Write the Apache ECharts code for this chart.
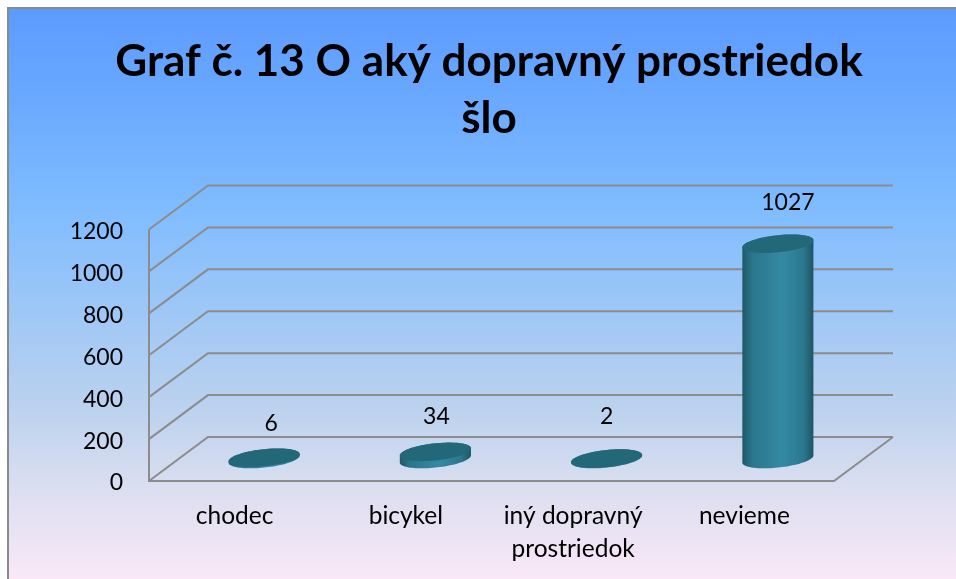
<!DOCTYPE html>
<html>
<head>
<meta charset="utf-8">
<style>html,body{margin:0;padding:0;background:#fff;overflow:hidden}#c{width:956px;height:579px}</style>
<script src="https://cdn.jsdelivr.net/npm/echarts@6/dist/echarts.min.js"></script>
</head>
<body>
<div id="c"></div>
<script>
const categories = ['chodec', 'bicykel', 'iný dopravný\nprostriedok', 'nevieme'];
const values = [6, 34, 2, 1027];
const yTicks = [0, 200, 400, 600, 800, 1000, 1200];
const titleText = 'Graf č. 13 O aký dopravný prostriedok\nšlo';

const FONT = 'Lato';
const DEPTH_X = 59, DEPTH_Y = -44;
const LINE = { stroke: '#8c8c8c', lineWidth: 2 };
const LABEL_SHIFT = [[7, -34], [1, -35], [0, -42], [10, -41]];

const chart = echarts.init(document.getElementById('c'), null, { renderer: 'canvas' });

function renderFrame(params, api) {
  const cs = params.coordSys;
  const v = api.value(0);
  const y = api.coord([0, v])[1];
  const x0 = cs.x, x1 = cs.x + cs.width;
  const children = [{
    type: 'polyline',
    shape: { points: [[x0, y], [x0 + DEPTH_X, y + DEPTH_Y], [x1 + DEPTH_X, y + DEPTH_Y]] },
    style: Object.assign({ fill: null }, LINE)
  }];
  if (v === 0) {
    children.push({
      type: 'polyline',
      shape: { points: [[x0, cs.y], [x0, y], [x1, y], [x1 + DEPTH_X, y + DEPTH_Y]] },
      style: Object.assign({ fill: null }, LINE)
    });
  }
  return { type: 'group', children };
}

function ellipsePoints(cx, cy, a, from, to) {
  const k = 3.6, b = 8.6, pts = [];
  const n = 48;
  for (let i = 0; i <= n; i++) {
    const t = from + (to - from) * i / n;
    pts.push([cx + a * Math.cos(t), cy - k * Math.cos(t) - b * Math.sin(t)]);
  }
  return pts;
}

function renderBar(params, api) {
  const idx = api.value(0), val = api.value(1);
  const band = api.size([1, 0])[0];
  const a = band * 0.415 / 2;
  const base = api.coord([idx, 0]);
  const top = api.coord([idx, val]);
  const cx = base[0] + DEPTH_X / 2;
  const by = base[1] + DEPTH_Y / 2;
  const ty = top[1] + DEPTH_Y / 2;
  const bodyPts = ellipsePoints(cx, ty, a, 0, Math.PI)
    .concat(ellipsePoints(cx, by, a, Math.PI, 2 * Math.PI));
  const shift = LABEL_SHIFT[idx];
  return {
    type: 'group',
    children: [
      {
        type: 'polygon',
        shape: { points: bodyPts },
        style: {
          fill: new echarts.graphic.LinearGradient(0, 0, 1, 0, [
            { offset: 0, color: '#1f5866' },
            { offset: 0.14, color: '#2a768c' },
            { offset: 0.55, color: '#348aa3' },
            { offset: 0.86, color: '#2b778e' },
            { offset: 1, color: '#1f5563' }
          ])
        }
      },
      {
        type: 'polygon',
        shape: { points: ellipsePoints(cx, ty, a, 0, 2 * Math.PI) },
        style: { fill: '#236878' }
      },
      {
        type: 'text',
        style: {
          x: cx + shift[0], y: ty + shift[1],
          text: String(values[idx]),
          align: 'center', verticalAlign: 'middle',
          fill: '#000', font: '23px ' + FONT
        }
      }
    ]
  };
}

chart.setOption({
  animation: false,
  graphic: [{
    type: 'rect', z: -10, silent: true,
    shape: { x: 8, y: 8, width: 960, height: 590 },
    style: {
      stroke: '#8a8a8a', lineWidth: 2,
      fill: new echarts.graphic.LinearGradient(0, 0, 0, 1, [
        { offset: 0, color: '#5c9bff' },
        { offset: 0.16, color: '#6aa9ff' },
        { offset: 0.34, color: '#7fbcff' },
        { offset: 0.68, color: '#bcd2ee' },
        { offset: 0.82, color: '#dcdff0' },
        { offset: 0.97, color: '#fbe8f8' },
        { offset: 1, color: '#fbe8f8' }
      ])
    }
  }],
  title: {
    text: titleText, left: 484, top: 28, textAlign: 'center',
    textStyle: { fontFamily: FONT, fontWeight: 'bold', fontSize: 44, lineHeight: 57, color: '#000' }
  },
  grid: { left: 149, top: 229.5, width: 685, height: 251.5 },
  xAxis: {
    type: 'category', data: categories,
    axisLine: { show: false }, axisTick: { show: false },
    axisLabel: {
      interval: 0, margin: 19, fontFamily: FONT, fontSize: 24.5, lineHeight: 33, color: '#000', verticalAlign: 'top',
      formatter: (v, i) => i < 2 ? v : v.split('\n').map(s => '{n|' + s + '}').join('\n'),
      rich: { n: { padding: [0, 8, 0, 0], fontFamily: FONT, fontSize: 24.5, lineHeight: 33, color: '#000' } }
    }
  },
  yAxis: {
    type: 'value', min: 0, max: 1200, interval: 200,
    axisLine: { show: false }, axisTick: { show: false }, splitLine: { show: false },
    axisLabel: {
      margin: 26, fontFamily: FONT, fontSize: 23, color: '#000',
      formatter: v => '{n|' + v + '}',
      rich: { n: { padding: [4, 0, 0, 0], fontFamily: FONT, fontSize: 23, color: '#000' } }
    }
  },
  series: [
    {
      type: 'custom', z: 1, silent: true, clip: false,
      renderItem: renderFrame,
      data: yTicks.map(v => [v]),
      encode: { y: 0 }
    },
    {
      type: 'custom', z: 2, silent: true, clip: false,
      renderItem: renderBar,
      data: values.map((v, i) => [i, v]),
      encode: { x: 0, y: 1 }
    }
  ]
});
</script>
</body>
</html>
